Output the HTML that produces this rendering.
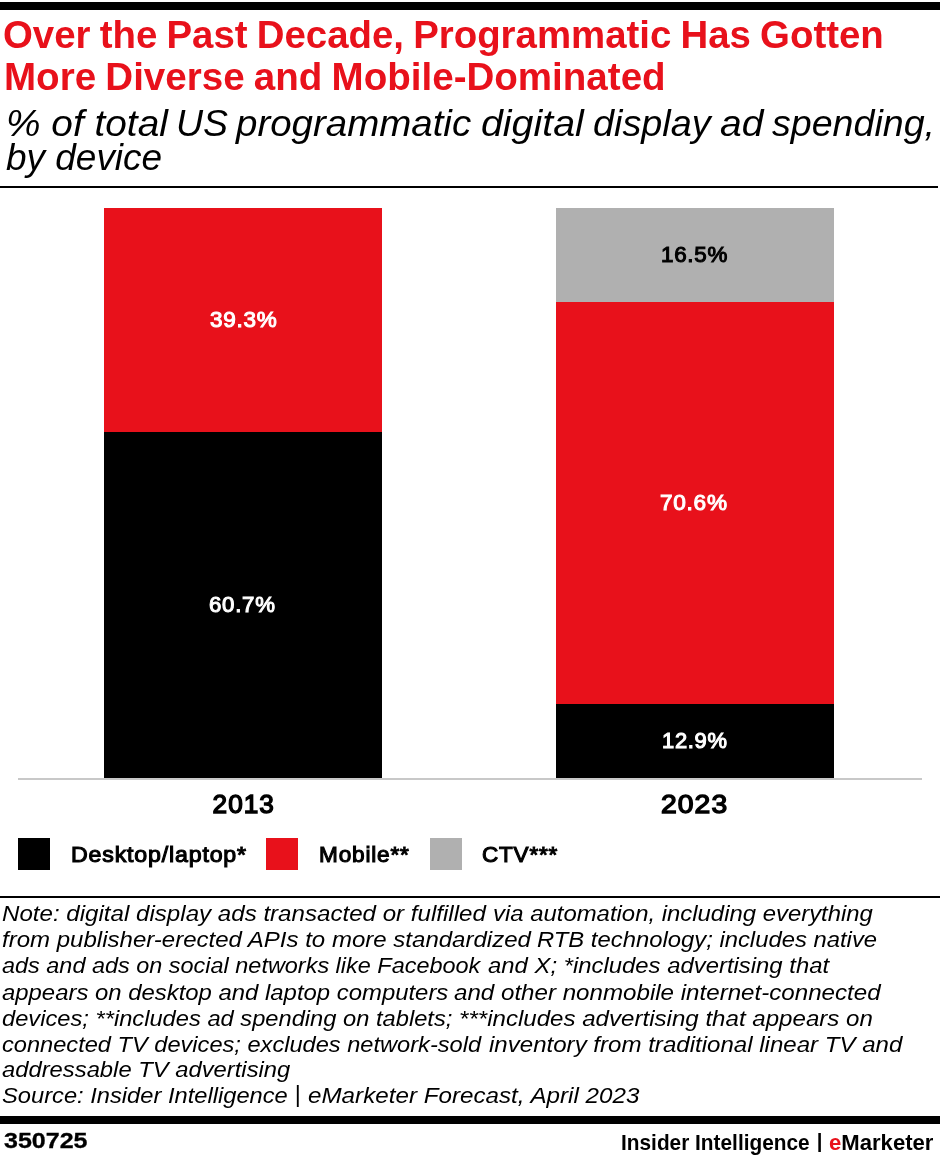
<!DOCTYPE html>
<html lang="en">
<head>
<meta charset="utf-8">
<title>Over the Past Decade, Programmatic Has Gotten More Diverse and Mobile-Dominated</title>
<style>
html,body{margin:0;padding:0;background:#fff;}
body{width:940px;height:1158px;position:relative;overflow:hidden;font-family:"Liberation Sans",Arial,Helvetica,sans-serif;color:#000;}
.abs{position:absolute;}
.rule{position:absolute;background:#000;}
.x{position:absolute;transform-origin:0 0;white-space:nowrap;line-height:1;margin:0;padding:0;font-weight:normal;font-style:normal;}
.title{color:#e8111b;font-weight:bold;}
.sub{font-style:italic;}
.val,.yr,.lg,.ft{font-weight:bold;}
.note{font-style:italic;}
.seg{position:absolute;}
.w{margin:0;padding:0;font-size:inherit;font-weight:normal;}
.sw{position:absolute;width:32px;height:32px;top:838px;}
</style>
</head>
<body>
<div class="rule" style="left:0;top:2px;width:940px;height:8px;"></div>
<div class="rule" style="left:0;top:186px;width:938px;height:2px;"></div>
<div class="seg" style="left:104px;top:208px;width:278px;height:224px;background:#e8111b;"></div>
<div class="seg" style="left:104px;top:432px;width:278px;height:346px;background:#000;"></div>
<div class="seg" style="left:556px;top:208px;width:278px;height:94px;background:#b0b0b0;"></div>
<div class="seg" style="left:556px;top:302px;width:278px;height:402px;background:#e8111b;"></div>
<div class="seg" style="left:556px;top:704px;width:278px;height:74px;background:#000;"></div>
<div class="abs" style="left:18px;top:778px;width:904px;height:2px;background:#c8c8c8;"></div>
<div class="sw" style="left:18px;background:#000;"></div>
<div class="sw" style="left:266px;background:#e8111b;"></div>
<div class="sw" style="left:430px;background:#b0b0b0;"></div>
<div class="rule" style="left:0;top:896px;width:940px;height:2px;"></div>
<div class="rule" style="left:0;top:1116px;width:940px;height:8px;"></div>
<h1 class="w">
<span class="x title" id="t1" style="left:3.20px;top:15.00px;font-size:39px;transform:scaleX(0.9843);word-spacing:-1.5px;">Over the Past Decade, Programmatic Has Gotten</span>
<span class="x title" id="t2" style="left:3.80px;top:56.90px;font-size:39px;transform:scaleX(0.9883);word-spacing:-1.5px;">More Diverse and Mobile-Dominated</span>
</h1>
<h2 class="w">
<span class="x sub" id="s1a" style="left:6.00px;top:104.51px;font-size:37px;transform:scaleX(1.0493);">% of total</span>
<span class="x sub" id="s1b" style="left:176.10px;top:104.51px;font-size:37px;transform:scaleX(1.0130);">US</span>
<span class="x sub" id="s1c" style="left:235.90px;top:104.51px;font-size:37px;transform:scaleX(1.0396);">programmatic</span>
<span class="x sub" id="s1d" style="left:481.00px;top:104.51px;font-size:37px;transform:scaleX(1.0629);">digital</span>
<span class="x sub" id="s1e" style="left:592.60px;top:104.51px;font-size:37px;transform:scaleX(1.0216);">display</span>
<span class="x sub" id="s1f" style="left:719.80px;top:104.51px;font-size:37px;transform:scaleX(1.0532);">ad</span>
<span class="x sub" id="s1g" style="left:771.70px;top:104.51px;font-size:37px;transform:scaleX(1.0160);">spending,</span>
<span class="x sub" id="s2" style="left:5.60px;top:138.61px;font-size:37px;transform:scaleX(0.9987);">by device</span>
</h2>
<div class="w">
<div class="x val" id="v1" style="left:209.60px;top:310.31px;font-size:21.5px;transform:scaleX(1.0460);color:#fff;font-weight:normal;-webkit-text-stroke-width:1.05px;letter-spacing:0.7px;">39.3%</div>
<div class="x val" id="v2" style="left:209.00px;top:595.40px;font-size:21.5px;transform:scaleX(1.0333);color:#fff;font-weight:normal;-webkit-text-stroke-width:1.05px;letter-spacing:0.7px;">60.7%</div>
<div class="x val" id="v3" style="left:661.20px;top:245.31px;font-size:21.5px;transform:scaleX(1.0414);font-weight:normal;-webkit-text-stroke-width:1.05px;letter-spacing:0.7px;">16.5%</div>
<div class="x val" id="v4" style="left:660.20px;top:493.21px;font-size:21.5px;transform:scaleX(1.0508);color:#fff;font-weight:normal;-webkit-text-stroke-width:1.05px;letter-spacing:0.7px;">70.6%</div>
<div class="x val" id="v5" style="left:662.20px;top:731.31px;font-size:21.5px;transform:scaleX(1.0191);color:#fff;font-weight:normal;-webkit-text-stroke-width:1.05px;letter-spacing:0.7px;">12.9%</div>
<div class="x yr" id="y1" style="left:212.60px;top:791.22px;font-size:26.2px;transform:scaleX(1.0000);font-weight:normal;-webkit-text-stroke-width:1.4px;letter-spacing:1px;">2013</div>
<div class="x yr" id="y2" style="left:661.20px;top:791.22px;font-size:26.2px;transform:scaleX(1.0800);font-weight:normal;-webkit-text-stroke-width:1.4px;letter-spacing:1px;">2023</div>
</div>
<div class="w">
<div class="x lg" id="l1" style="left:71.10px;top:843.50px;font-size:22.5px;transform:scaleX(1.0296);font-weight:normal;-webkit-text-stroke-width:1.1px;letter-spacing:0.8px;">Desktop/laptop*</div>
<div class="x lg" id="l2" style="left:318.80px;top:843.50px;font-size:22.5px;transform:scaleX(1.0046);font-weight:normal;-webkit-text-stroke-width:1.1px;letter-spacing:0.8px;">Mobile**</div>
<div class="x lg" id="l3" style="left:482.00px;top:843.50px;font-size:22.5px;transform:scaleX(1.0000);font-weight:normal;-webkit-text-stroke-width:1.1px;letter-spacing:0.8px;">CTV***</div>
</div>
<p class="w">
<span class="x note" id="n1a" style="left:2.00px;top:902.41px;font-size:22.8px;transform:scaleX(1.0578);">Note: digital display ads transacted or fulfilled</span>
<span class="x note" id="n1b" style="left:492.60px;top:902.41px;font-size:22.8px;transform:scaleX(1.0482);">via automation, including everything</span>
<span class="x note" id="n2a" style="left:2.00px;top:928.41px;font-size:22.8px;transform:scaleX(1.0541);">from publisher-erected APIs to more standardized</span>
<span class="x note" id="n2b" style="left:536.60px;top:928.41px;font-size:22.8px;transform:scaleX(1.0455);">RTB technology; includes native</span>
<span class="x note" id="n3a" style="left:2.00px;top:954.41px;font-size:22.8px;transform:scaleX(1.0284);">ads and ads on social networks like Facebook</span>
<span class="x note" id="n3b" style="left:488.20px;top:954.41px;font-size:22.8px;transform:scaleX(1.0472);">and X; *includes advertising that</span>
<span class="x note" id="n4a" style="left:2.00px;top:980.51px;font-size:22.8px;transform:scaleX(1.0481);">appears on desktop and laptop computers</span>
<span class="x note" id="n4b" style="left:454.20px;top:980.51px;font-size:22.8px;transform:scaleX(1.0586);">and other nonmobile internet-connected</span>
<span class="x note" id="n5a" style="left:2.00px;top:1006.51px;font-size:22.8px;transform:scaleX(1.0390);">devices; **includes ad spending on tablets;</span>
<span class="x note" id="n5b" style="left:459.20px;top:1006.51px;font-size:22.8px;transform:scaleX(1.0568);">***includes advertising that appears on</span>
<span class="x note" id="n6a" style="left:2.00px;top:1032.60px;font-size:22.8px;transform:scaleX(1.0359);">connected TV devices; excludes network-sold</span>
<span class="x note" id="n6b" style="left:488.80px;top:1032.60px;font-size:22.8px;transform:scaleX(1.0558);">inventory from traditional linear TV and</span>
<span class="x note" id="n7" style="left:2.00px;top:1058.41px;font-size:22.8px;transform:scaleX(1.0436);">addressable TV advertising</span>
<span class="x note" id="n8a" style="left:2.00px;top:1084.41px;font-size:22.8px;transform:scaleX(1.0392);">Source: Insider Intelligence</span>
<span class="x note" id="n8b" style="left:294.80px;top:1083.40px;font-size:23.4px;transform:scaleX(1.0000);font-style:normal;">|</span>
<span class="x note" id="n8c" style="left:308.20px;top:1084.41px;font-size:22.8px;transform:scaleX(1.0617);">eMarketer Forecast, April 2023</span>
</p>
<footer class="w">
<div class="x ft" id="f1" style="left:3.60px;top:1129.70px;font-size:22.3px;transform:scaleX(1.1218);-webkit-text-stroke:0.3px #000;">350725</div>
<div class="x ft" id="f2" style="left:621.00px;top:1132.31px;font-size:22.2px;transform:scaleX(0.9387);">Insider Intelligence</div>
<div class="x ft" id="f3" style="left:816.80px;top:1131.11px;font-size:20.3px;transform:scaleX(1.0000);">|</div>
<div class="x ft" id="f4" style="left:829.00px;top:1132.31px;font-size:22.2px;transform:scaleX(0.9962);"><span style="color:#e8111b;">e</span>Marketer</div>
</footer>
</body>
</html>
